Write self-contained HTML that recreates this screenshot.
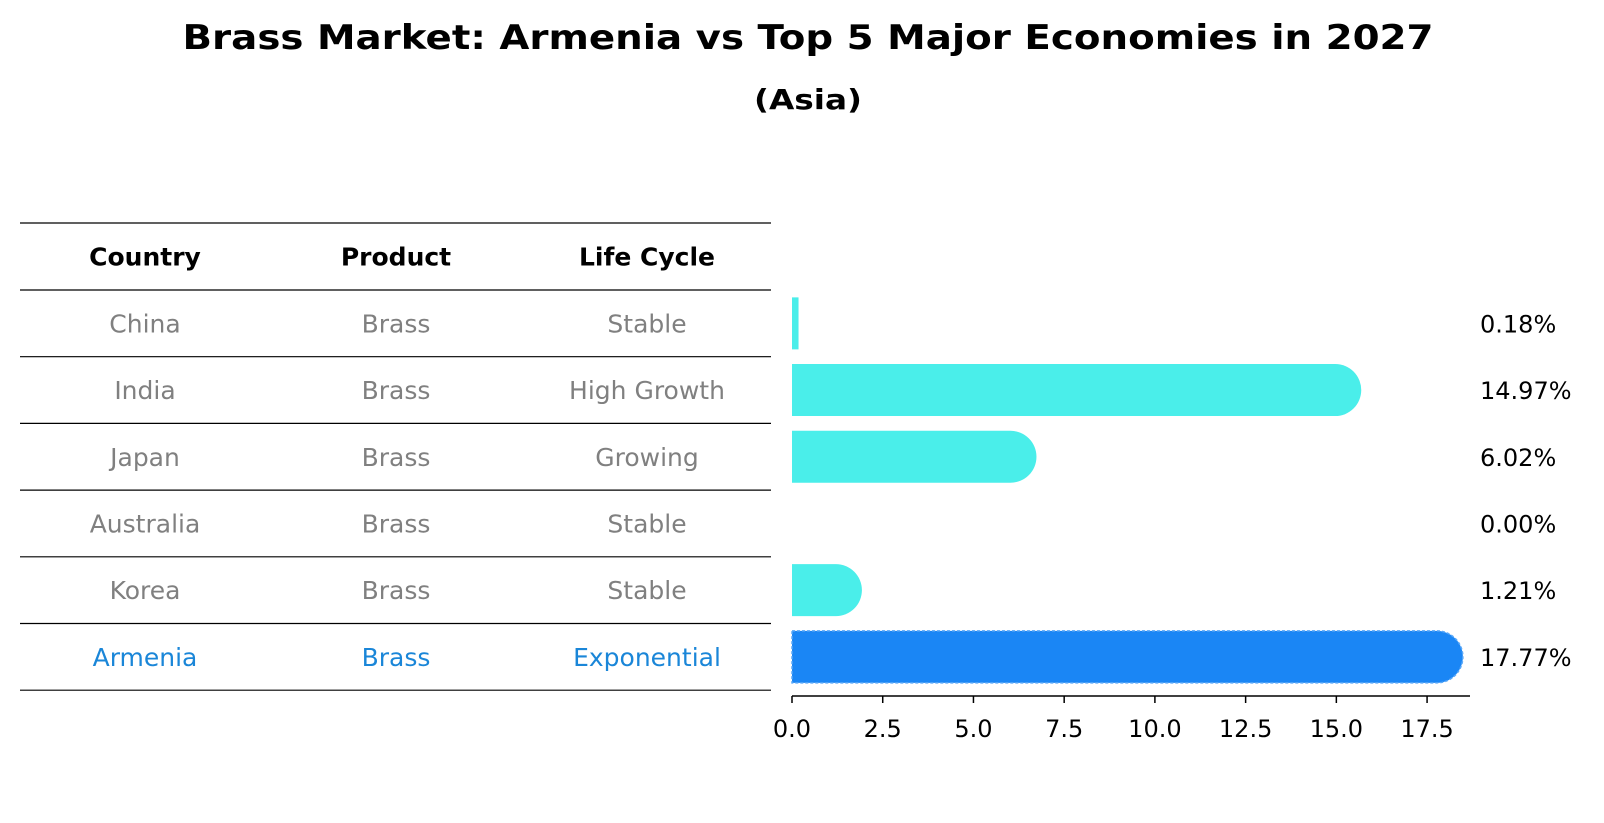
<!DOCTYPE html>
<html><head><meta charset="utf-8"><style>
html,body{margin:0;padding:0;background:#fff;}
svg{display:block;font-family:"DejaVu Sans","Liberation Sans",sans-serif;}
</style></head><body>
<svg id="chart" width="1604" height="823" viewBox="0 0 1604 823">
<text x="808" y="49" text-anchor="middle" font-size="34" font-weight="bold" textLength="1251" lengthAdjust="spacingAndGlyphs">Brass Market: Armenia vs Top 5 Major Economies in 2027</text>
<text x="808" y="109" text-anchor="middle" font-size="28" font-weight="bold" textLength="108" lengthAdjust="spacingAndGlyphs">(Asia)</text>
<g id="table"></g>
<g id="bars"></g>
</svg>
<script>
const countries=["China","India","Japan","Australia","Korea","Armenia"];
const products=["Brass","Brass","Brass","Brass","Brass","Brass"];
const lifeCycles=["Stable","High Growth","Growing","Stable","Stable","Exponential"];
const values=[0.18,14.97,6.02,0.00,1.21,17.77];
const valueLabels=["0.18%","14.97%","6.02%","0.00%","1.21%","17.77%"];
const ticks=[0,2.5,5,7.5,10,12.5,15,17.5];
const tickLabels=["0.0","2.5","5.0","7.5","10.0","12.5","15.0","17.5"];

const NS="http://www.w3.org/2000/svg";
function mk(tag,attrs,parent,txt){const e=document.createElementNS(NS,tag);for(const k in attrs)e.setAttribute(k,attrs[k]);if(txt!==undefined)e.textContent=txt;parent.appendChild(e);return e;}
const x0=792, xs=36.29;
function X(v){return x0+v*xs;}
const rowTop=290, rowH=66.7;
function Y(i){return rowTop+rowH*(i+0.5);}

const tb=document.getElementById('table');
const cols=[145,396,647];
const lineYs=[223];
for(let i=0;i<=countries.length;i++)lineYs.push(rowTop+rowH*i);
lineYs.forEach(y=>{const l=mk('line',{x1:20,x2:771,y1:y,y2:y,stroke:'#000','stroke-width':1.2},tb);

});
["Country","Product","Life Cycle"].forEach((h,j)=>{const t=mk('text',{x:cols[j],y:256.5+9,'text-anchor':'middle','font-size':25,'font-weight':'bold'},tb,h);

});
countries.forEach((c,i)=>{const col=i===countries.length-1?'#1a86d8':'#808080';
[c,products[i],lifeCycles[i]].forEach((s,j)=>{const t=mk('text',{x:cols[j],y:Y(i)+9,'text-anchor':'middle','font-size':25,fill:col},tb,s);

});});

const bg=document.getElementById('bars');
const bh=52, r=26;
values.forEach((v,i)=>{
  if(v<=0)return;
  const y=Y(i)-bh/2, xe=X(v);
  let d;
  if(xe-x0<r){d=`M${x0},${y}H${xe}V${y+bh}H${x0}Z`;}
  else{d=`M${x0},${y}H${xe}A${r},${r} 0 0 1 ${xe},${y+bh}H${x0}Z`;}
  const last=i===values.length-1;
  const p=mk('path',{d:d,fill:last?'#1a86f5':'#4aeeea',stroke:last?'#5aa8f8':'none','stroke-width':last?1.5:0,'stroke-dasharray':last?'3 2':'none'},bg);
  
  
});
valueLabels.forEach((s,i)=>{const t=mk('text',{x:1480,y:Y(i)+9,'font-size':24},bg,s);

});
const ax=mk('line',{x1:x0,x2:1470,y1:696,y2:696,stroke:'#000','stroke-width':1.5},bg);


ticks.forEach((t,i)=>{const l=mk('line',{x1:X(t),x2:X(t),y1:696,y2:703,stroke:'#000','stroke-width':1.5},bg);


const tx=mk('text',{x:X(t),y:737,'text-anchor':'middle','font-size':24},bg,tickLabels[i]);

});
</script>
</body></html>
